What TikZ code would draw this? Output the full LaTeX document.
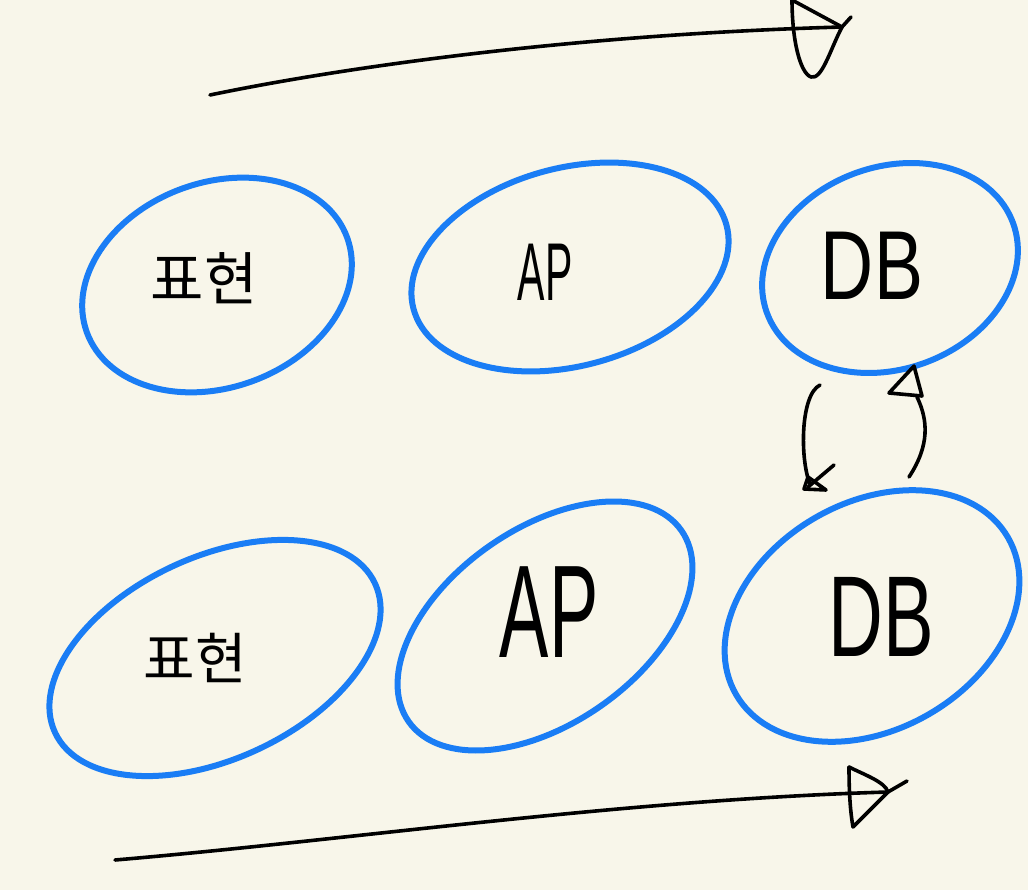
\documentclass[tikz,border=0pt]{standalone}
\usepackage{fontspec}
\setmainfont{Liberation Sans}
\newfontfamily\kfont{Noto Sans CJK KR}
\usetikzlibrary{shapes.geometric}
\definecolor{paper}{RGB}{248,246,234}
\definecolor{pen}{RGB}{26,125,245}
\begin{document}
\begin{tikzpicture}[x=1pt,y=-1pt,
  oval/.style={ellipse,draw=pen,line width=6pt,inner sep=0pt,outer sep=0pt},
  ink/.style={draw=black,line width=3.6pt,line cap=round,line join=round},
  lbl/.style={inner sep=0pt,text=black}]
\fill[paper] (0,0) rectangle (1028,890);
\useasboundingbox (0,0) rectangle (1028,890);
% top row
\node[oval,minimum width=277pt,minimum height=205pt,rotate=20] (e1) at (217,285) {};
\node[oval,minimum width=324pt,minimum height=198pt,rotate=15] (e2) at (570,267) {};
\node[oval,minimum width=262pt,minimum height=202pt,rotate=20] (e3) at (890,268) {};
% bottom row
\node[oval,minimum width=353pt,minimum height=202pt,rotate=25] (e4) at (215,658) {};
\node[oval,minimum width=333pt,minimum height=195pt,rotate=35] (e5) at (545,626) {};
\node[oval,minimum width=314pt,minimum height=227pt,rotate=30] (e6) at (872,616) {};
% labels
\node[lbl] (t1) at (204,278) {\kfont\fontsize{58}{58}\selectfont 표현};
\node[lbl] (t2) at (545,272) {\scalebox{0.5}[1]{\fontsize{82}{82}\selectfont AP}};
\node[lbl] (t3) at (872,266) {\scalebox{0.75}[1]{\fontsize{98}{98}\selectfont DB}};
\node[lbl] (t4) at (195,658) {\kfont\fontsize{56}{56}\selectfont 표현};
\node[lbl] (t5) at (549,612) {\scalebox{0.56}[1]{\fontsize{132}{132}\selectfont AP}};
\node[lbl] (t6) at (881,617) {\scalebox{0.66}[1]{\fontsize{115}{115}\selectfont DB}};
% top arrow
\coordinate (a1s) at (210,95);
\coordinate (a1e) at (842,27);
\draw[ink] (a1s) .. controls (330,70) and (560,35) .. (a1e) -- (851,17);
\draw[ink] (792,0) -- (a1e) .. controls (830,50) and (822,80) .. (811,77) .. controls (800,73) and (792,40) .. (792,0);
% bottom arrow
\coordinate (a2s) at (115,860);
\coordinate (a2e) at (888,792);
\draw[ink] (a2s) .. controls (350,840) and (620,800) .. (a2e) -- (907,781);
\draw[ink] (849,767) .. controls (865,775) and (885,782) .. (a2e) -- (853,827) .. controls (850,810) and (849,790) .. (849,767);
% DB to DB arrows
\coordinate (d1s) at (820,385);
\coordinate (d1e) at (810,484);
\draw[ink] (d1s) .. controls (800,395) and (800,460) .. (d1e);
\draw[ink] (808,477) -- (804,489) -- (826,490) -- cycle;
\draw[ink] (834,465) -- (808,487);
\coordinate (d2s) at (909,477);
\coordinate (d2e) at (917,397);
\draw[ink] (d2s) .. controls (930,445) and (928,420) .. (d2e);
\draw[ink] (914,366) -- (889,393) -- (922,396) -- cycle;
\end{tikzpicture}
\end{document}
